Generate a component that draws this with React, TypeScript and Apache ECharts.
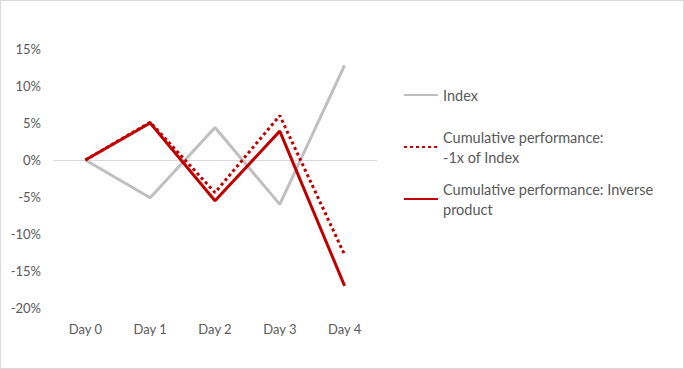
import React, { useEffect, useRef } from "react";
import * as echarts from "echarts";

const categories = ["Day 0", "Day 1", "Day 2", "Day 3", "Day 4"];
const indexValues = [0, -5.1, 4.4, -6.0, 12.8];
const minusOneValues = [0, 5.1, -4.4, 6.0, -12.8];
const inverseValues = [0, 5.0, -5.5, 3.9, -17.0];
const seriesNames = [
  "Index",
  "Cumulative performance: -1x of Index",
  "Cumulative performance: Inverse product",
];
const legendLabels = [
  "Index",
  "Cumulative performance:\n-1x of Index",
  "Cumulative performance: Inverse\nproduct",
];

const FONT = "Lato";
const TEXT = "#595959";

export default function App() {
  const ref = useRef<HTMLDivElement>(null);
  useEffect(() => {
    if (!ref.current) return;
    const chart = echarts.init(ref.current, undefined, { renderer: "svg" });
    const legendBase = {
      orient: "vertical",
      left: 402,
      padding: 0,
      itemWidth: 34,
      itemHeight: 14,
      itemGap: 0,
      itemStyle: { opacity: 0 },
      textStyle: { color: TEXT, fontFamily: FONT, fontSize: 14.5, lineHeight: 20 },
      formatter: (n: string) => legendLabels[seriesNames.indexOf(n)],
    };
    chart.setOption({
      animation: false,
      backgroundColor: "#ffffff",
      textStyle: { fontFamily: FONT },
      grid: { left: 52, right: 306, top: 48, bottom: 60 },
      legend: [
        { ...legendBase, top: 84, data: [seriesNames[0]] },
        {
          ...legendBase,
          top: 116,
          data: [seriesNames[1]],
          textStyle: { ...legendBase.textStyle, padding: [20, 0, 0, 0] },
        },
        {
          ...legendBase,
          top: 168,
          data: [seriesNames[2]],
          textStyle: { ...legendBase.textStyle, padding: [20, 0, 0, 0] },
        },
      ],
      xAxis: {
        type: "category",
        data: categories,
        boundaryGap: true,
        axisLine: { show: false, onZero: false },
        axisTick: { show: false },
        axisLabel: { color: TEXT, fontSize: 13, fontFamily: FONT, margin: 14 },
        splitLine: { show: false },
      },
      yAxis: {
        type: "value",
        min: -20,
        max: 15,
        interval: 5,
        axisLine: { show: false },
        axisTick: { show: false },
        splitLine: { show: false },
        axisLabel: {
          color: TEXT,
          fontSize: 13,
          fontFamily: FONT,
          margin: 12,
          formatter: "{value}%",
        },
      },
      series: [
        {
          name: seriesNames[0],
          type: "line",
          data: indexValues,
          symbol: "none",
          lineStyle: { color: "#BFBFBF", width: 3 },
          itemStyle: { color: "#BFBFBF" },
          z: 2,
          markLine: {
            silent: true,
            symbol: "none",
            label: { show: false },
            lineStyle: { color: "#D9D9D9", width: 1, type: "solid" },
            data: [{ yAxis: 0 }],
            z: 1,
          },
        },
        {
          name: seriesNames[1],
          type: "line",
          data: minusOneValues,
          symbol: "none",
          lineStyle: { color: "#C00000", width: 3, type: [3, 3] },
          itemStyle: { color: "#C00000" },
          z: 3,
        },
        {
          name: seriesNames[2],
          type: "line",
          data: inverseValues,
          symbol: "none",
          lineStyle: { color: "#C00000", width: 3 },
          itemStyle: { color: "#C00000" },
          z: 4,
        },
      ],
    });
    return () => chart.dispose();
  }, []);
  return (
    <div
      style={{
        position: "absolute",
        left: 0,
        top: 0,
        width: 684,
        height: 369,
        boxSizing: "border-box",
        border: "1px solid #D9D9D9",
        background: "#fff",
      }}
    >
      <div ref={ref} style={{ width: 682, height: 367 }} />
    </div>
  );
}
